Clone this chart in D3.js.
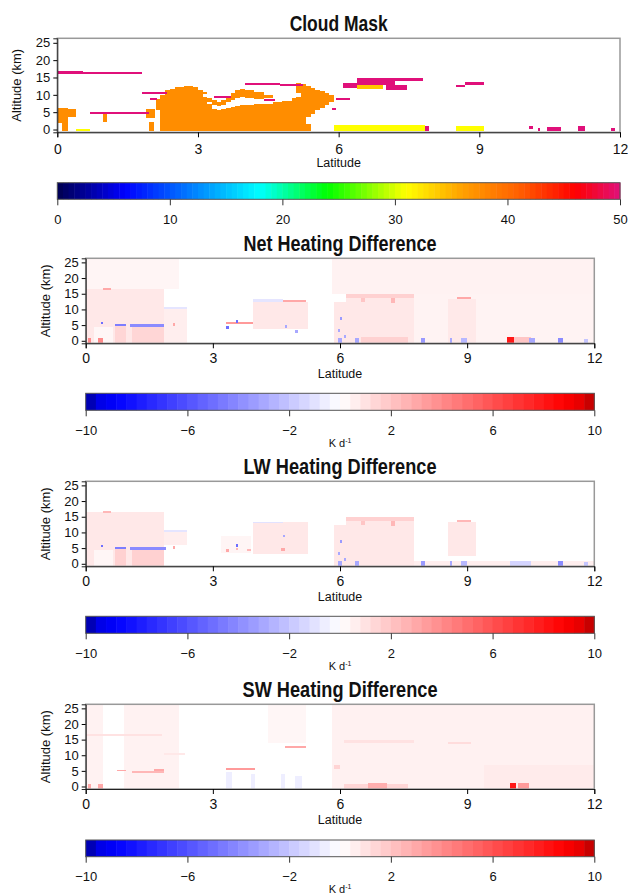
<!DOCTYPE html>
<html lang="en">
<head>
<meta charset="UTF-8">
<title>Cloud Mask and Heating Differences</title>
<script src="https://d3js.org/d3.v7.min.js"></script>
<style>
  body { margin: 0; background: #fff; }
  text { font-family: "Liberation Sans", Arial, sans-serif; fill: #111; }
  .title { font-family: "Liberation Sans", Arial, sans-serif; font-weight: bold; font-size: 22px; }
</style>
</head>
<body>
<svg id="chart" width="628" height="896"></svg>
<script>
// tick labels
const latTicks = [0, 3, 6, 9, 12];
const altTicks = [0, 5, 10, 15, 20, 25];
const maskTicks = [0, 10, 20, 30, 40, 50];
const heatTicks = [-10, -6, -2, 2, 6, 10];

// colour scales (value stops)
const maskStops = [0, 6, 12, 18, 24, 31, 36, 41, 46, 50];
const maskColors = ["#000050", "#0000ff", "#0080ff", "#00ffff", "#00ff00", "#ffff00", "#ffa000", "#ff6000", "#ff0000", "#e0107a"];
const heatStops = [-10, -9.6, -8.8, 0, 8.8, 9.6, 10];
const heatColors = ["#00008b", "#0000e0", "#0000ff", "#ffffff", "#ff0000", "#e00000", "#b00000"];

// cells: [lat0, lat1, alt0, alt1, value]
const cloudMask = [
  // low cloud at the left edge
  [0.00, 0.10, 2.0, 6.2, 37.5], [0.10, 0.22, -0.3, 6.2, 37.5], [0.22, 0.40, 3.5, 6.0, 37.5],
  [0.98, 1.05, 2.3, 5.0, 37.5], [1.90, 2.08, 3.3, 5.8, 37.5], [1.95, 2.06, -0.3, 2.2, 37.5],
  // main convective cloud
  [2.10, 2.20, 5.5, 8.8, 37.5], [2.20, 2.30, -0.3, 10.0, 37.5], [2.30, 2.40, -0.3, 11.3, 37.5],
  [2.40, 2.50, -0.3, 11.8, 37.5], [2.50, 2.70, -0.3, 12.3, 37.5], [2.70, 2.90, -0.3, 12.5, 37.5],
  [2.90, 3.00, -0.3, 12.2, 37.5], [3.00, 3.10, -0.3, 11.5, 37.5],
  [3.10, 3.20, -0.3, 9.5, 37.5], [3.10, 3.20, 10.2, 10.8, 37.5],
  [3.20, 3.30, -0.3, 7.5, 37.5], [3.20, 3.30, 8.0, 9.0, 37.5],
  [3.30, 3.40, -0.3, 6.0, 37.5], [3.30, 3.40, 7.0, 8.5, 37.5],
  [3.40, 3.50, -0.3, 5.5, 37.5], [3.40, 3.50, 6.8, 8.0, 37.5],
  [3.50, 3.60, -0.3, 5.8, 37.5], [3.50, 3.60, 7.2, 8.5, 37.5],
  [3.60, 3.70, -0.3, 6.2, 37.5], [3.60, 3.70, 8.0, 9.5, 37.5],
  [3.70, 3.80, -0.3, 6.5, 37.5], [3.70, 3.80, 8.5, 10.5, 37.5],
  [3.80, 3.90, -0.3, 6.8, 37.5], [3.80, 3.90, 9.0, 11.5, 37.5],
  [3.90, 4.00, -0.3, 7.0, 37.5], [3.90, 4.00, 9.5, 11.8, 37.5],
  [4.00, 4.20, -0.3, 7.2, 37.5], [4.00, 4.20, 9.0, 11.3, 37.5],
  [4.20, 4.40, -0.3, 7.3, 37.5], [4.20, 4.40, 8.8, 10.8, 37.5],
  [4.40, 4.60, -0.3, 7.5, 37.5], [4.40, 4.60, 9.0, 10.0, 37.5],
  [4.60, 4.80, -0.3, 7.8, 37.5], [4.80, 5.00, -0.3, 8.3, 37.5], [5.00, 5.10, -0.3, 9.0, 37.5],
  [5.10, 5.20, -0.3, 9.5, 37.5], [5.10, 5.20, 10.5, 13.3, 37.5], [5.20, 5.30, -0.3, 13.0, 37.5],
  [5.30, 5.40, -0.3, 1.5, 37.5], [5.30, 5.40, 3.5, 12.5, 37.5], [5.40, 5.50, 4.5, 12.0, 37.5],
  [5.50, 5.60, 5.5, 11.5, 37.5], [5.60, 5.70, 6.3, 11.0, 37.5], [5.70, 5.80, 7.0, 10.5, 37.5],
  [5.80, 5.90, 7.8, 10.0, 37.5],
  // cirrus and thin layers
  [0.00, 0.55, 16.1, 16.8, 50], [0.55, 1.10, 15.9, 16.6, 50], [1.10, 1.80, 16.1, 16.6, 50],
  [1.80, 2.35, 10.2, 10.9, 50], [0.70, 1.95, 4.4, 5.1, 50], [1.98, 2.12, 8.6, 9.2, 50],
  [3.35, 3.70, 9.2, 9.8, 50], [4.40, 4.65, 8.3, 8.9, 50], [5.95, 6.25, 8.4, 9.0, 50],
  [5.85, 5.95, 5.7, 6.3, 50], [4.00, 4.75, 12.9, 13.4, 50], [4.75, 5.25, 12.5, 13.0, 50],
  [6.10, 6.40, 12.0, 13.5, 50], [6.40, 7.20, 12.8, 14.8, 50], [7.20, 7.80, 14.1, 14.9, 50],
  [7.00, 7.45, 11.5, 12.8, 50], [6.40, 6.95, 11.8, 12.8, 34],
  [8.50, 8.70, 12.2, 12.8, 50], [8.70, 9.10, 12.7, 13.8, 50],
  // surface returns
  [5.90, 7.85, -0.3, 1.2, 31], [8.50, 9.10, -0.3, 1.0, 31], [0.40, 0.70, -0.5, 0.2, 31],
  [7.85, 7.92, -0.3, 1.0, 50], [10.05, 10.15, 0.2, 0.9, 50], [10.25, 10.30, -0.3, 0.5, 50],
  [10.45, 10.75, -0.3, 0.7, 50], [11.10, 11.25, -0.3, 1.0, 50], [11.80, 11.90, -0.3, 0.5, 50]
];

const netHeating = [
  [0.00, 2.20, 16.6, 26.3, 0.35], [5.80, 12.0, 15.0, 26.3, 0.45], [7.75, 12.0, -0.8, 15.0, 0.4],
  [0.00, 1.85, -0.8, 16.6, 0.8], [0.20, 0.65, -0.8, 4.5, 0.3], [0.40, 0.60, 16.2, 16.9, 3.0],
  [0.70, 0.95, -0.8, 4.6, 1.4], [1.10, 1.85, -0.8, 4.4, 1.4],
  [0.70, 0.95, 4.6, 5.3, -4.5], [1.05, 1.90, 4.3, 5.3, -4.0], [0.35, 0.40, 5.2, 6.0, -5],
  [0.05, 0.12, -0.8, 0.8, 4], [0.30, 0.40, -0.8, 0.8, 4],
  [1.85, 2.40, -0.8, 10.2, 0.6], [1.85, 2.40, 10.2, 10.8, -0.9], [2.05, 2.10, 4.8, 5.6, 3],
  [3.30, 3.95, 5.4, 5.9, 3.5], [3.30, 3.38, 3.8, 4.6, -5], [3.55, 3.60, 5.8, 6.5, -5],
  [3.95, 5.25, 3.8, 12.5, 0.8], [3.95, 4.65, 12.5, 13.4, -0.9], [4.65, 5.20, 12.4, 13.0, 3.0],
  [4.70, 4.75, 4.0, 5.0, -3], [4.95, 5.00, 2.5, 3.5, -3],
  [5.85, 6.15, -0.8, 12.5, 0.8], [6.15, 7.75, -0.8, 13.8, 0.8], [6.15, 7.75, 13.8, 15.0, 1.6],
  [6.50, 6.60, 12.3, 13.8, 2], [7.20, 7.30, 12.0, 13.5, 2.5],
  [6.00, 6.05, 6.5, 7.5, -3.5], [5.95, 6.00, 2.8, 3.6, -3], [6.10, 6.15, 1.0, 2.0, -3],
  [8.55, 9.20, -0.8, 13.2, 0.75], [8.75, 9.10, 13.2, 14.0, 3.0],
  [6.50, 7.60, -0.8, 1.2, 1.6], [9.95, 10.10, -0.8, 1.2, 8.0], [10.10, 10.50, -0.8, 1.2, 2.0],
  [5.95, 6.05, -0.8, 0.8, -3], [6.35, 6.45, -0.8, 1.0, -3], [7.90, 8.00, -0.8, 1.0, -3.5],
  [8.60, 8.65, -0.8, 0.8, -3], [8.85, 9.00, -0.8, 0.8, -2.5], [10.45, 10.60, -0.8, 0.8, -3],
  [11.15, 11.25, -0.8, 1.0, -4], [11.75, 11.85, -0.8, 0.6, -2]
];

const lwHeating = [
  [0.00, 1.85, -0.8, 16.6, 0.8], [0.20, 0.65, -0.8, 4.5, 0.3], [0.40, 0.60, 16.2, 16.9, 2.5],
  [0.70, 0.95, -0.8, 4.6, 1.6], [1.10, 1.85, -0.8, 4.4, 1.6],
  [0.70, 0.95, 4.6, 5.3, -4.5], [1.05, 1.90, 4.3, 5.3, -4.0], [0.35, 0.40, 5.2, 6.0, -5],
  [1.85, 2.40, 6.0, 10.2, 0.6], [1.85, 2.40, 10.2, 10.8, -0.9], [2.05, 2.10, 4.8, 5.6, 3],
  [3.20, 3.90, 3.5, 9.0, 0.35], [3.30, 3.38, 3.8, 4.6, 3], [3.55, 3.60, 4.3, 5.0, 2.5],
  [3.55, 3.60, 5.4, 6.2, -5], [3.80, 3.90, 4.2, 4.8, 2.5],
  [3.95, 5.25, 3.0, 13.3, 0.8], [3.95, 4.65, 12.9, 13.4, -1.0], [4.60, 4.70, 4.0, 5.0, 3],
  [4.65, 4.70, 8.5, 9.2, -3],
  [5.85, 6.15, -0.8, 12.5, 0.8], [6.15, 7.75, -0.8, 13.8, 0.8], [6.15, 7.75, 13.8, 15.0, 1.6],
  [6.50, 6.60, 12.3, 13.8, 2], [7.20, 7.30, 12.0, 13.5, 2.5],
  [6.00, 6.05, 6.5, 7.5, -3.5], [5.95, 6.00, 2.8, 3.6, -3], [6.10, 6.15, 1.0, 2.0, -3],
  [8.55, 9.20, 2.5, 13.4, 0.8], [8.75, 9.10, 13.2, 14.0, 2.5],
  [7.75, 12.0, -0.8, 0.8, 0.6],
  [5.95, 6.05, -0.8, 0.8, -3], [6.35, 6.45, -0.8, 1.0, -3], [7.90, 8.00, -0.8, 1.0, -3.5],
  [8.60, 8.65, -0.8, 0.8, -3], [8.85, 9.00, -0.8, 0.8, -2.5], [10.00, 10.50, -0.8, 1.0, -1.5],
  [11.15, 11.25, -0.8, 1.0, -4], [11.75, 11.85, -0.8, 0.6, -2]
];

const swHeating = [
  [0.00, 0.40, -0.8, 26.3, 0.45], [0.90, 2.20, -0.8, 26.3, 0.45], [4.30, 5.20, 14.0, 26.3, 0.3],
  [5.80, 12.0, -0.8, 26.3, 0.5], [9.40, 12.0, -0.8, 7.0, 0.7],
  [0.00, 1.80, 16.1, 16.7, 1.0], [1.85, 2.35, 10.2, 10.8, 0.8],
  [0.75, 0.95, 4.8, 5.3, 3.0], [1.10, 1.85, 4.4, 5.1, 2.5], [1.60, 1.85, 4.9, 5.5, 3],
  [0.05, 0.12, -0.8, 0.8, 3], [0.30, 0.40, -0.8, 0.8, 3],
  [3.30, 4.00, 5.3, 5.9, 3.5],
  [3.30, 3.45, -0.8, 4.5, -0.6], [3.90, 4.00, -0.8, 4.0, -0.6], [4.60, 4.70, -0.8, 4.0, -0.6],
  [4.95, 5.10, -0.8, 3.5, -0.6],
  [4.70, 5.20, 12.4, 13.0, 3.0], [6.10, 7.75, 13.8, 14.8, 1.0], [8.55, 9.10, 13.5, 14.1, 1.2],
  [5.85, 6.00, 5.5, 7.0, 1.5],
  [6.10, 7.60, -0.8, 0.8, 1.4], [6.65, 7.10, -0.8, 1.2, 2.8],
  [10.00, 10.15, -0.8, 1.2, 8.0], [10.20, 10.45, -0.8, 1.2, 3.5]
];

// title widths of the condensed face in the reference
const titleWidths = [98, 193, 193, 195];

const svg = d3.select("#chart");

const maskColor = d3.scaleLinear().domain(maskStops).range(maskColors).clamp(true);
const heatColor = d3.scaleLinear().domain(heatStops).range(heatColors).clamp(true);

const panels = [
  { title: "Cloud Mask", data: cloudMask, fill: maskColor, x0: 57.3, x1: 620, y0: 38.3, y1: 132.3,
    bar: { y: 182.7, h: 16.6, domain: [0, 50], ticks: maskTicks, steps: 100, fill: maskColor, unit: false } },
  { title: "Net Heating Difference", data: netHeating, fill: heatColor, x0: 85.7, x1: 594.3, y0: 258.3, y1: 343.3,
    bar: { y: 393.3, h: 17, domain: [-10, 10], ticks: heatTicks, steps: 50, fill: heatColor, unit: true } },
  { title: "LW Heating Difference", data: lwHeating, fill: heatColor, x0: 85.7, x1: 594.3, y0: 481.3, y1: 566.3,
    bar: { y: 616.3, h: 17, domain: [-10, 10], ticks: heatTicks, steps: 50, fill: heatColor, unit: true } },
  { title: "SW Heating Difference", data: swHeating, fill: heatColor, x0: 85.7, x1: 594.3, y0: 704.3, y1: 789,
    bar: { y: 840, h: 16.7, domain: [-10, 10], ticks: heatTicks, steps: 50, fill: heatColor, unit: true } }
];

panels.forEach((p, i) => {
  const g = svg.append("g");
  const x = d3.scaleLinear().domain([0, 12]).range([p.x0, p.x1]);
  const y = d3.scaleLinear().domain([-0.8, 26.3]).range([p.y1, p.y0]);

  g.append("text").attr("class", "title")
    .attr("x", (p.x0 + p.x1) / 2).attr("y", p.y0 - 7.5)
    .attr("text-anchor", "middle")
    .attr("textLength", titleWidths[i]).attr("lengthAdjust", "spacingAndGlyphs")
    .text(p.title);

  g.append("g").selectAll("rect")
    .data(p.data)
    .enter().append("rect")
    .attr("x", d => x(d[0]))
    .attr("width", d => x(d[1]) - x(d[0]))
    .attr("y", d => y(d[3]))
    .attr("height", d => y(d[2]) - y(d[3]))
    .attr("fill", d => p.fill(d[4]))
    .attr("shape-rendering", "crispEdges");

  // frame: grey box, dark axes on left and bottom
  g.append("rect").attr("x", p.x0).attr("y", p.y0)
    .attr("width", p.x1 - p.x0).attr("height", p.y1 - p.y0)
    .attr("fill", "none").attr("stroke", "#999").attr("stroke-width", 1.5);

  const xAxis = g.append("g").attr("transform", `translate(0,${p.y1})`)
    .call(d3.axisBottom(x).tickValues(latTicks).tickSize(5).tickPadding(i === 0 ? 7 : 5));
  xAxis.select(".domain").attr("stroke", "#222");
  xAxis.selectAll("text").attr("font-size", 14).attr("font-family", "Liberation Sans, Arial, sans-serif").attr("fill", "#111");

  const yAxis = g.append("g").attr("transform", `translate(${p.x0},0)`)
    .call(d3.axisLeft(y).tickValues(altTicks).tickSize(4).tickPadding(3));
  yAxis.select(".domain").attr("stroke", "#222");
  yAxis.selectAll("text").attr("font-size", 13).attr("font-family", "Liberation Sans, Arial, sans-serif").attr("fill", "#111");

  g.append("text")
    .attr("x", (p.x0 + p.x1) / 2).attr("y", p.y1 + 35)
    .attr("text-anchor", "middle").attr("font-size", 12.5).text("Latitude");

  g.append("text")
    .attr("transform", `translate(${p.x0 - 36},${(p.y0 + p.y1) / 2}) rotate(-90)`)
    .attr("text-anchor", "middle").attr("font-size", 13).text("Altitude (km)");

  // colour bar
  const b = p.bar;
  const bx = d3.scaleLinear().domain(b.domain).range([p.x0, p.x1]);
  const step = (b.domain[1] - b.domain[0]) / b.steps;
  const cells = d3.range(b.steps).map(k => b.domain[0] + k * step);
  g.append("g").selectAll("rect")
    .data(cells)
    .enter().append("rect")
    .attr("x", d => bx(d))
    .attr("width", d => bx(d + step) - bx(d) + 0.5)
    .attr("y", b.y).attr("height", b.h)
    .attr("fill", d => b.fill(d + step / 2));
  g.append("rect").attr("x", p.x0).attr("y", b.y)
    .attr("width", p.x1 - p.x0).attr("height", b.h)
    .attr("fill", "none").attr("stroke", "#555").attr("stroke-width", 1);

  const cAxis = g.append("g").attr("transform", `translate(0,${b.y + b.h})`)
    .call(d3.axisBottom(bx).tickValues(b.ticks).tickSize(6).tickPadding(9));
  cAxis.select(".domain").remove();
  cAxis.selectAll("line").attr("stroke", "#333");
  cAxis.selectAll("text").attr("font-size", 13).attr("font-family", "Liberation Sans, Arial, sans-serif").attr("fill", "#111");

  if (b.unit) {
    const t = g.append("text")
      .attr("x", (p.x0 + p.x1) / 2).attr("y", Math.min(b.y + b.h + 37, 893))
      .attr("text-anchor", "middle").attr("font-size", 11);
    t.append("tspan").text("K d");
    t.append("tspan").attr("font-size", 7).attr("dy", -4).text("-1");
  }
});
</script>
</body>
</html>
